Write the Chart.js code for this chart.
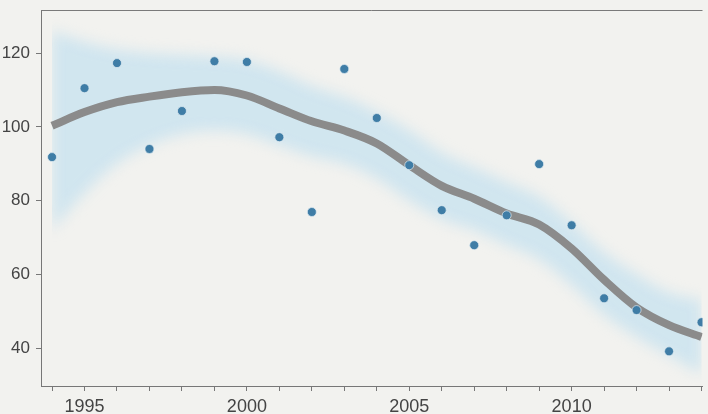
<!DOCTYPE html>
<html>
<head>
<meta charset="utf-8">
<script src="https://cdn.jsdelivr.net/npm/chart.js@4"></script>
<style>
  html, body { margin: 0; padding: 0; background: #f2f2ef; }
  canvas { display: block; }
</style>
</head>
<body>
<canvas id="myChart" width="708" height="414"></canvas>
<script>
// data
const years = [1994, 1995, 1996, 1997, 1998, 1999, 2000, 2001, 2002, 2003, 2004,
               2005, 2006, 2007, 2008, 2009, 2010, 2011, 2012, 2013, 2014];
const observed = [91.8, 110.5, 117.3, 94, 104.3, 117.8, 117.6, 97.2, 76.9, 115.7, 102.4,
                  89.6, 77.4, 67.9, 76, 89.9, 73.3, 53.5, 50.3, 39.1, 47];
const trend = [100.3, 104, 106.7, 108.2, 109.4, 110, 108.5, 105, 101.5, 99, 95.5,
               89.6, 84, 80.5, 76.5, 73.5, 67, 58.5, 51, 46.2, 43];
const bandUpper = [126, 123, 121, 120, 119.5, 119, 118, 115, 111, 108, 104,
                   99, 93, 89, 85, 81, 74, 66, 60, 55, 53];
const bandLower = [72, 82, 90, 95, 98, 99, 98, 95, 92, 90, 86,
                   80, 75, 72, 68, 64, 57, 49, 43, 38, 33];
const yTicks = [40, 60, 80, 100, 120];

const pts = (arr) => years.map((yr, i) => ({ x: yr, y: arr[i] }));

const labelFont = '"Liberation Sans Narrow", "Liberation Sans", sans-serif';

// blur the confidence band: filter is switched on after the empty dataset
// and switched off after the upper band (which carries the fill)
const bandBlur = {
    id: 'bandBlur',
    afterDatasetDraw(chart, args) {
        const ctx = chart.ctx;
        if (args.index === 0) {
            ctx.save();
            ctx.filter = 'blur(7px)';
        }
        if (args.index === 1) {
            ctx.restore();
        }
    }
};

const topLine = {
    id: 'topLine',
    afterDraw(chart) {
        const a = chart.chartArea;
        const ctx = chart.ctx;
        ctx.save();
        ctx.strokeStyle = '#7a7a7a';
        ctx.lineWidth = 1;
        ctx.beginPath();
        ctx.moveTo(a.left, a.top + 0.5);
        ctx.lineTo(a.right, a.top + 0.5);
        ctx.stroke();
        ctx.restore();
    }
};

const ctx = document.getElementById('myChart');

new Chart(ctx, {
    type: 'line',
    data: {
        datasets: [
            { label: '', data: [], order: 10, pointRadius: 0, borderWidth: 0 },
            {
                label: 'upper', data: pts(bandUpper), order: 9,
                fill: '+1', backgroundColor: 'rgba(185, 220, 240, 0.58)',
                borderWidth: 0, pointRadius: 0, tension: 0.4
            },
            {
                label: 'lower', data: pts(bandLower), order: 8,
                fill: false, borderWidth: 0, pointRadius: 0, tension: 0.4
            },
            {
                label: 'trend', data: pts(trend), order: 2,
                borderColor: '#8b8b8b', borderWidth: 8, pointRadius: 0,
                cubicInterpolationMode: 'monotone', fill: false
            },
            {
                label: 'observed', data: pts(observed), order: 1,
                showLine: false, pointRadius: 4.5, pointHoverRadius: 4.5,
                pointBackgroundColor: '#3f7da6',
                pointBorderColor: 'rgba(225, 236, 242, 0.7)', pointBorderWidth: 1
            }
        ]
    },
    options: {
        responsive: false,
        animation: false,
        events: [],
        layout: { padding: { top: 10, right: 0, left: 0, bottom: 0 } },
        plugins: { legend: { display: false }, tooltip: { enabled: false } },
        scales: {
            x: {
                type: 'linear',
                min: 1993.66,
                max: 2014.03,
                afterBuildTicks: (scale) => { scale.ticks = years.map(v => ({ value: v })); },
                afterFit: (scale) => {
                    scale.height = 28;
                    scale.paddingLeft = 0;
                    scale.paddingRight = 0;
                },
                ticks: {
                    autoSkip: false, maxRotation: 0, padding: 5,
                    color: '#444', font: { family: labelFont, size: 18 },
                    callback: (v) => (v % 5 === 0 ? String(v) : '')
                },
                grid: { drawOnChartArea: false, tickLength: 5, color: '#777' },
                border: { display: true, color: '#777' }
            },
            y: {
                min: 29.7,
                max: 131.7,
                afterBuildTicks: (scale) => { scale.ticks = yTicks.map(v => ({ value: v })); },
                afterFit: (scale) => {
                    scale.width = 41;
                    scale.paddingTop = 0;
                    scale.paddingBottom = 0;
                },
                ticks: {
                    padding: 6, color: '#444', font: { family: labelFont, size: 17 }
                },
                grid: { drawOnChartArea: false, tickLength: 5, color: '#777' },
                border: { display: true, color: '#777' }
            }
        }
    },
    plugins: [bandBlur, topLine]
});
</script>
</body>
</html>
